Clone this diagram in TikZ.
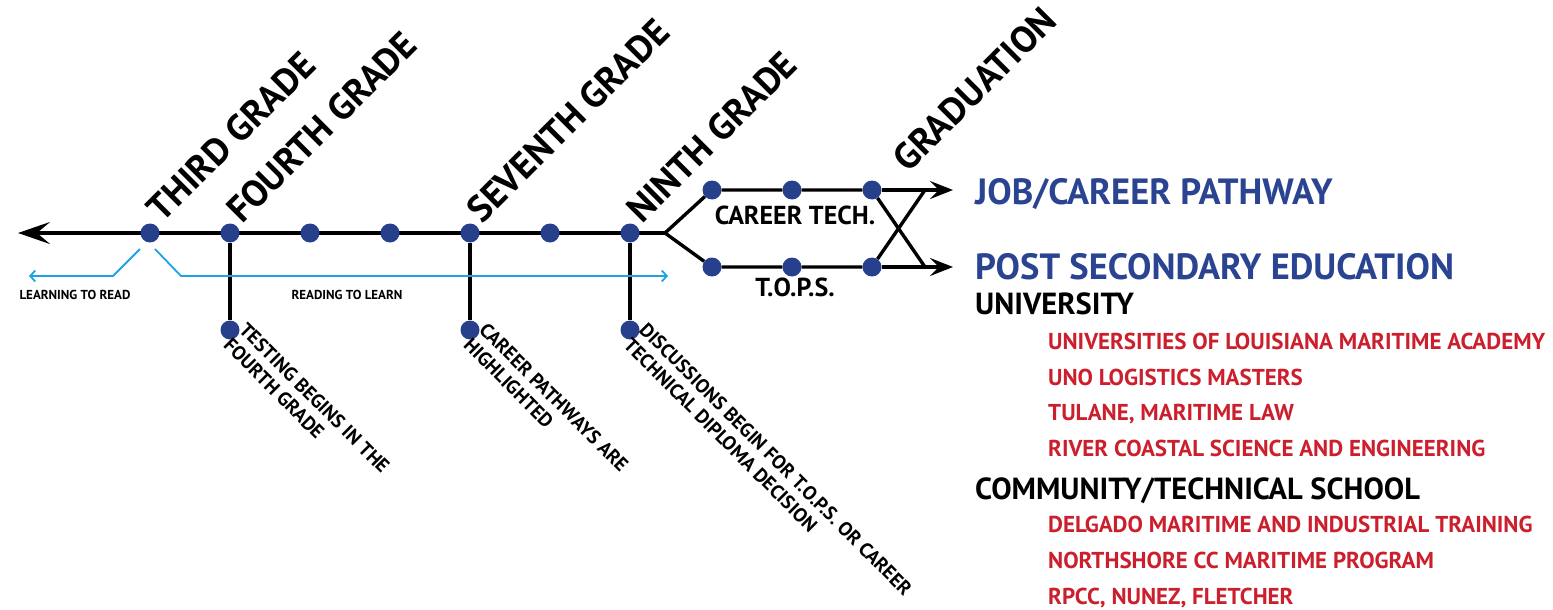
\documentclass[tikz,border=0pt]{standalone}
\usepackage{fontspec}
\setmainfont{PT Sans}
\usetikzlibrary{arrows.meta}
\definecolor{dotblue}{HTML}{27408B}
\definecolor{headblue}{HTML}{2B4491}
\definecolor{itemred}{HTML}{CC1F2D}
\definecolor{flowcyan}{HTML}{1BA3E6}

\begin{document}
\begin{tikzpicture}[x=1pt,y=-1pt,
  track/.style={line width=3.4pt, black},
  bigtip/.style={-{Stealth[length=32pt,width=22pt,inset=13pt]}},
  endtip/.style={-{Stealth[length=23pt,width=18pt,inset=9pt]}},
  flow/.style={line width=1.8pt, flowcyan, -{Straight Barb[length=5pt,width=11pt,line width=1.8pt]}},
  stop/.style={circle, fill=dotblue, minimum size=19pt, inner sep=0pt},
  grade/.style={font=\bfseries\fontsize{37}{37}\selectfont, rotate=45, anchor=base west, inner sep=0pt},
  note/.style={font=\bfseries\fontsize{19.5}{22}\selectfont, rotate=-45, anchor=north west, align=left, inner sep=0pt},
  tiny/.style={font=\bfseries\fontsize{13}{13}\selectfont, inner sep=0pt},
  branchlbl/.style={font=\bfseries\fontsize{26}{26}\selectfont, inner sep=0pt},
  outcome/.style={font=\bfseries\fontsize{36.5}{36.5}\selectfont, text=headblue, anchor=base west, inner sep=0pt},
  heading/.style={font=\bfseries\fontsize{30.5}{30.5}\selectfont, anchor=base west, inner sep=0pt},
  item/.style={font=\bfseries\fontsize{23}{23}\selectfont, text=itemred, anchor=base west, inner sep=0pt}
]
\useasboundingbox (0,0) rectangle (1553,610);

% left arrow end and branch point
\coordinate (tail) at (18,233);
\coordinate (fork) at (665,233);

% main timeline
\draw[track, bigtip] (fork) -- (tail);

% stops along the timeline
\foreach \n/\x in {g3/150, g4/230, g5/310, g6/390, g7/470, g8/550, g9/630}
  \node[stop] (\n) at (\x,233) {};

% drop lines to the notes
\node[stop] (n4) at (230,330) {};
\node[stop] (n7) at (470,330) {};
\node[stop] (n9) at (630,330) {};
\draw[track] (g4) -- (n4);
\draw[track] (g7) -- (n7);
\draw[track] (g9) -- (n9);

% two branches after ninth grade
\node[stop] (c1) at (712,190) {};
\node[stop] (c2) at (792,190) {};
\node[stop] (c3) at (872,190) {};
\node[stop] (t1) at (712,267) {};
\node[stop] (t2) at (792,267) {};
\node[stop] (t3) at (872,267) {};
\coordinate (jobend) at (953,190);
\coordinate (postend) at (953,267);
\coordinate (xup) at (925,190);
\coordinate (xdown) at (925,267);

\draw[track] (fork) -- (c1) -- (c2) -- (c3);
\draw[track] (fork) -- (t1) -- (t2) -- (t3);
\draw[track, endtip] (c3) -- (jobend);
\draw[track, endtip] (t3) -- (postend);
\draw[track] (c3) -- (xdown);
\draw[track] (t3) -- (xup);

% reading spans
\coordinate (lr0) at (140,249);
\coordinate (lr1) at (113,276);
\coordinate (lr2) at (29,276);
\coordinate (rl0) at (155,249);
\coordinate (rl1) at (181,276);
\coordinate (rl2) at (668,276);
\draw[flow] (lr0) -- (lr1) -- (lr2);
\draw[flow] (rl0) -- (rl1) -- (rl2);
\node[tiny] (lrl) at (75,295) {LEARNING TO READ};
\node[tiny] (rll) at (347,295) {READING TO LEARN};

% grade labels
\node[grade] (l3) at (162,224) {THIRD GRADE};
\node[grade] (l4) at (242,225) {FOURTH GRADE};
\node[grade] (l7) at (482,225) {SEVENTH GRADE};
\node[grade] (l9) at (642,225) {NINTH GRADE};
\node[grade] (lg) at (908,174) {GRADUATION};

% branch labels
\node[branchlbl] (ct) at (795,215) {CAREER TECH.};
\node[branchlbl] (tp) at (795,287) {T.O.P.S.};

% notes under the timeline
\node[note] (m4) at (248,321) {TESTING BEGINS IN THE\\FOURTH GRADE};
\node[note] (m7) at (488,321) {CAREER PATHWAYS ARE\\HIGHLIGHTED};
\node[note] (m9) at (648,321) {DISCUSSIONS BEGIN FOR T.O.P.S. OR CAREER\\TECHNICAL DIPLOMA DECISION};

% outcomes
\node[outcome] (job) at (975,204) {JOB/CAREER PATHWAY};
\node[outcome] (post) at (975,279) {POST SECONDARY EDUCATION};
\node[heading] (uni) at (975,314) {UNIVERSITY};
\node[item] (u1) at (1048,349) {UNIVERSITIES OF LOUISIANA MARITIME ACADEMY};
\node[item] (u2) at (1048,385) {UNO LOGISTICS MASTERS};
\node[item] (u3) at (1048,420) {TULANE, MARITIME LAW};
\node[item] (u4) at (1048,456) {RIVER COASTAL SCIENCE AND ENGINEERING};
\node[heading] (cts) at (975,499) {COMMUNITY/TECHNICAL SCHOOL};
\node[item] (s1) at (1048,532) {DELGADO MARITIME AND INDUSTRIAL TRAINING};
\node[item] (s2) at (1048,568) {NORTHSHORE CC MARITIME PROGRAM};
\node[item] (s3) at (1048,604) {RPCC, NUNEZ, FLETCHER};
\end{tikzpicture}
\end{document}
